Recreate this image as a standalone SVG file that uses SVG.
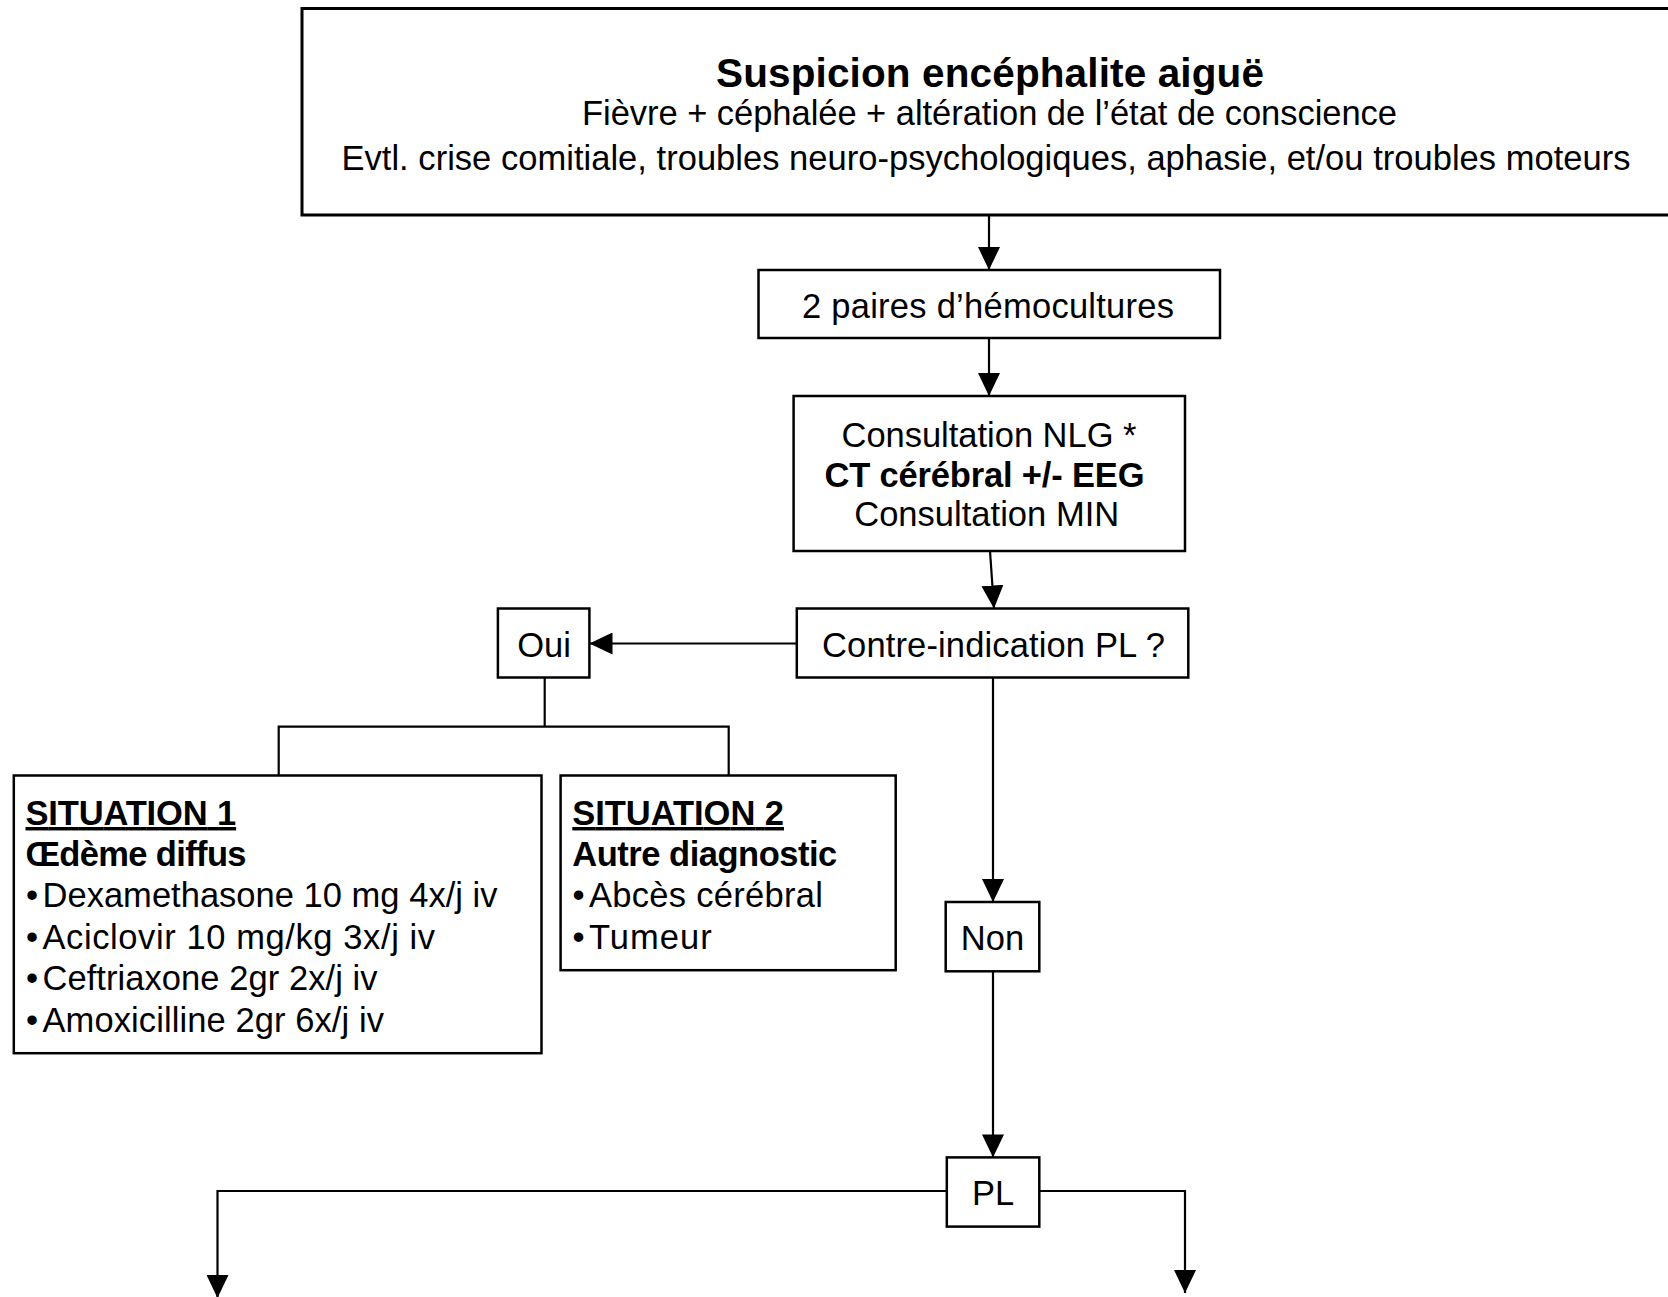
<svg xmlns="http://www.w3.org/2000/svg" width="1668" height="1297" viewBox="0 0 1668 1297">
<style>
.box{fill:#fff;stroke:#000;stroke-width:2.5}
.t{font-family:"Liberation Sans",Arial,sans-serif;font-size:34.5px;fill:#000}
.b{font-weight:bold}
.m{text-anchor:middle}
.ln{fill:none;stroke:#000;stroke-width:2.2}
.u{text-decoration:underline}
</style>
<defs>
<marker id="ah" markerUnits="userSpaceOnUse" markerWidth="23" markerHeight="22" refX="23" refY="11" orient="auto">
<path d="M0,0 L23,11 L0,22 z" fill="#000"/>
</marker>
</defs>
<rect width="1668" height="1297" fill="#fff"/>
<g id="connectors">
<line class="ln" x1="989" y1="215" x2="989" y2="270" marker-end="url(#ah)"/>
<line class="ln" x1="989" y1="338" x2="989" y2="396" marker-end="url(#ah)"/>
<line class="ln" x1="990" y1="551" x2="994" y2="608.5" marker-end="url(#ah)"/>
<line class="ln" x1="797" y1="643.5" x2="589.5" y2="643.5" marker-end="url(#ah)"/>
<polyline class="ln" points="544.7,677.6 544.7,726.6"/>
<polyline class="ln" points="278.7,775.5 278.7,726.6 728.7,726.6 728.7,775.5"/>
<line class="ln" x1="993" y1="677.6" x2="993" y2="902" marker-end="url(#ah)"/>
<line class="ln" x1="993" y1="971.3" x2="993" y2="1157.4" marker-end="url(#ah)"/>
<polyline class="ln" points="946.8,1191 217.5,1191 217.5,1298" marker-end="url(#ah)"/>
<polyline class="ln" points="1039.3,1191 1185,1191 1185,1293" marker-end="url(#ah)"/>
</g>
<g id="n-top">
<rect x="302" y="8.5" width="1372" height="206.5" fill="#fff" stroke="#000" stroke-width="3"/>
<text class="t b m" x="990" y="87" style="font-size:40.5px" textLength="548">Suspicion encéphalite aiguë</text>
<text class="t m" x="989.5" y="125" textLength="815">Fièvre + céphalée + altération de l’état de conscience</text>
<text class="t m" x="986" y="169.5" textLength="1289">Evtl. crise comitiale, troubles neuro-psychologiques, aphasie, et/ou troubles moteurs</text>
</g>
<g id="n-hemo">
<rect class="box" x="758.5" y="270" width="461.5" height="68"/>
<text class="t m" x="988" y="317.5" textLength="372">2 paires d’hémocultures</text>
</g>
<g id="n-consult">
<rect class="box" x="793.6" y="396" width="391.4" height="155"/>
<text class="t m" x="989" y="446.5" textLength="295">Consultation NLG *</text>
<text class="t b m" x="984.5" y="486.5" textLength="320">CT cérébral +/- EEG</text>
<text class="t m" x="986.7" y="526" textLength="265">Consultation MIN</text>
</g>
<g id="n-ci">
<rect class="box" x="796.8" y="608.5" width="391.5" height="69"/>
<text class="t m" x="993.5" y="657" textLength="343">Contre-indication PL ?</text>
</g>
<g id="n-oui">
<rect class="box" x="497.9" y="608.5" width="91.5" height="69"/>
<text class="t m" x="544" y="657">Oui</text>
</g>
<g id="n-s1">
<rect class="box" x="13.8" y="775.5" width="527.7" height="277.7"/>
<text class="t b u" x="25.5" y="825" textLength="210.6">SITUATION  1</text>
<text class="t b" x="25.5" y="866" textLength="221">Œdème diffus</text>
<text class="t" x="26" y="907">•</text><text class="t" x="42.5" y="907" textLength="455">Dexamethasone 10 mg 4x/j iv</text>
<text class="t" x="26" y="948.5">•</text><text class="t" x="42.5" y="948.5" textLength="392.6">Aciclovir 10 mg/kg 3x/j iv</text>
<text class="t" x="26" y="990">•</text><text class="t" x="42.5" y="990" textLength="335">Ceftriaxone 2gr 2x/j iv</text>
<text class="t" x="26" y="1031.5">•</text><text class="t" x="42.5" y="1031.5" textLength="341.5">Amoxicilline 2gr 6x/j iv</text>
</g>
<g id="n-s2">
<rect class="box" x="560.6" y="775.5" width="335.1" height="194.7"/>
<text class="t b u" x="572.3" y="825" textLength="211.7">SITUATION  2</text>
<text class="t b" x="572.3" y="866" textLength="265">Autre diagnostic</text>
<text class="t" x="572.5" y="907">•</text><text class="t" x="589" y="907" textLength="234">Abcès cérébral</text>
<text class="t" x="572.5" y="948.5">•</text><text class="t" x="589" y="948.5" textLength="122.7">Tumeur</text>
</g>
<g id="n-non">
<rect class="box" x="945.7" y="902" width="93.6" height="69.3"/>
<text class="t m" x="992.5" y="949.5">Non</text>
</g>
<g id="n-pl">
<rect class="box" x="946.8" y="1157.4" width="92.5" height="69.2"/>
<text class="t m" x="993" y="1205">PL</text>
</g>
</svg>
